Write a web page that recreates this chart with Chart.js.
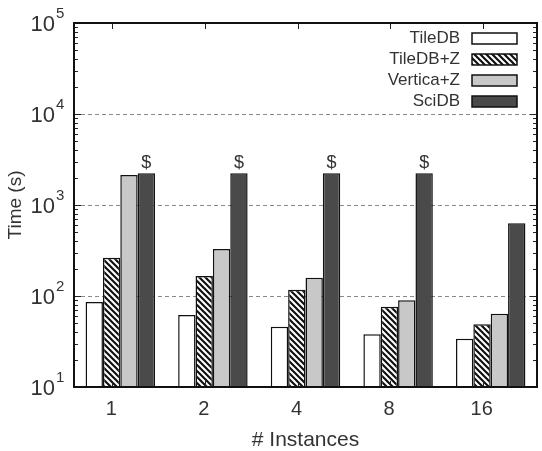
<!DOCTYPE html>
<html>
<head>
<meta charset="utf-8">
<script src="https://cdn.jsdelivr.net/npm/chart.js@4/dist/chart.umd.min.js"></script>
<style>
  html, body { margin: 0; padding: 0; background: #fff; }
  #wrap { width: 542px; height: 451px; }
</style>
</head>
<body>
<div id="wrap"><canvas id="c" width="542" height="451"></canvas></div>
<script>
// ---- data ----
const categories = ['1', '2', '4', '8', '16'];
const seriesNames = ['TileDB', 'TileDB+Z', 'Vertica+Z', 'SciDB'];
const tiledb   = [86, 62, 46, 38, 34];
const tiledbZ  = [264, 166, 117, 76, 49];
const verticaZ = [2140, 328, 159, 90, 64];
const scidb    = [2230, 2230, 2230, 2230, 630];
const scidbMarks = ['$', '$', '$', '$', ''];
const yTickExponents = [1, 2, 3, 4, 5];
const yTitle = 'Time (s)';
const xTitle = '# Instances';

const TEXT = '#333';
const FONT = '"Liberation Sans", Arial, sans-serif';

function hatchPattern() {
  const s = 6;
  const c = document.createElement('canvas');
  c.width = s; c.height = s;
  const g = c.getContext('2d');
  g.fillStyle = '#fff';
  g.fillRect(0, 0, s, s);
  g.strokeStyle = '#111';
  g.lineWidth = 2.2;
  g.beginPath();
  g.moveTo(-1, -1); g.lineTo(s + 1, s + 1);
  g.moveTo(-1, s - 1); g.lineTo(1, s + 1);
  g.moveTo(s - 1, -1); g.lineTo(s + 1, 1);
  g.stroke();
  return g.createPattern(c, 'repeat');
}
const hatch = hatchPattern();
const fills = ['#ffffff', hatch, '#c8c8c8', '#4a4a4a'];

const framePlugin = {
  id: 'frame',
  afterDraw(chart) {
    const { ctx, chartArea: a, scales } = chart;
    const y = scales.y, x = scales.x;
    ctx.save();
    // minor + major ticks on left and right
    ctx.strokeStyle = '#222';
    ctx.lineWidth = 1;
    for (let e = 1; e <= 4; e++) {
      for (let m = 1; m <= 9; m++) {
        const v = m * Math.pow(10, e);
        const py = Math.round(y.getPixelForValue(v)) + 0.5;
        const len = m === 1 ? 7 : 4;
        ctx.beginPath();
        ctx.moveTo(a.left, py); ctx.lineTo(a.left + len, py);
        ctx.moveTo(a.right, py); ctx.lineTo(a.right - len, py);
        ctx.stroke();
      }
    }
    // x ticks at label positions (top & bottom)
    for (let i = 0; i < categories.length; i++) {
      const px = Math.round(x.getPixelForValue(i) - 8) + 0.5;
      ctx.beginPath();
      ctx.moveTo(px, a.top); ctx.lineTo(px, a.top + 6);
      ctx.moveTo(px, a.bottom); ctx.lineTo(px, a.bottom - 6);
      ctx.stroke();
    }
    // frame
    ctx.strokeStyle = '#111';
    ctx.lineWidth = 2;
    ctx.strokeRect(a.left, a.top, a.right - a.left, a.bottom - a.top);

    // y tick labels 10^n
    ctx.fillStyle = TEXT;
    ctx.textBaseline = 'middle';
    yTickExponents.forEach(e => {
      const py = y.getPixelForValue(Math.pow(10, e));
      ctx.font = '22px ' + FONT;
      ctx.textAlign = 'right';
      ctx.fillText('10', 55, py + 1.5);
      ctx.font = '15px ' + FONT;
      ctx.textAlign = 'left';
      ctx.fillText(String(e), 56, py - 9);
    });

    // $ marks above SciDB bars
    const meta = chart.getDatasetMeta(3);
    ctx.font = '18px ' + FONT;
    ctx.textAlign = 'center';
    ctx.textBaseline = 'bottom';
    meta.data.forEach((bar, i) => {
      if (scidbMarks[i]) ctx.fillText(scidbMarks[i], bar.x, bar.y - 1);
    });

    // legend
    ctx.font = '17px ' + FONT;
    ctx.textAlign = 'right';
    ctx.textBaseline = 'middle';
    seriesNames.forEach((n, i) => {
      const ry = 38 + i * 21;
      ctx.fillStyle = TEXT;
      ctx.fillText(n, 460, ry);
      ctx.fillStyle = fills[i];
      ctx.fillRect(472, ry - 5, 45, 11);
      ctx.strokeStyle = '#111';
      ctx.lineWidth = 1.5;
      ctx.strokeRect(472, ry - 5, 45, 11);
    });
    ctx.restore();
  }
};

const datasets = [tiledb, tiledbZ, verticaZ, scidb].map((d, i) => ({
  label: seriesNames[i],
  data: d,
  backgroundColor: fills[i],
  borderColor: '#111',
  borderWidth: 1.5,
  borderSkipped: 'bottom',
  categoryPercentage: 0.75,
  barPercentage: 1.0
}));

new Chart(document.getElementById('c'), {
  type: 'bar',
  data: { labels: categories, datasets },
  plugins: [framePlugin],
  options: {
    responsive: false,
    animation: false,
    devicePixelRatio: 1,
    layout: { padding: { top: 23, right: 5, left: 0, bottom: 0 } },
    plugins: { legend: { display: false }, tooltip: { enabled: false } },
    scales: {
      x: {
        grid: { display: false, drawTicks: false },
        border: { display: false },
        ticks: { color: TEXT, font: { family: FONT, size: 20 }, padding: 10, labelOffset: -9 },
        title: { display: true, text: xTitle, color: TEXT, font: { family: FONT, size: 21, lineHeight: 1 }, padding: { top: 4, bottom: 0 } },
        afterFit(s) { s.height = 64; }
      },
      y: {
        type: 'logarithmic',
        min: 10, max: 100000,
        afterBuildTicks(s) { s.ticks = yTickExponents.map(e => ({ value: Math.pow(10, e) })); },
        grid: { color: '#8a8a8a', lineWidth: 1, drawTicks: false },
        border: { display: false, dash: [4, 3] },
        ticks: { display: false },
        title: { display: true, text: yTitle, color: TEXT, font: { family: FONT, size: 19 }, padding: { top: 4, bottom: 0 } },
        afterFit(s) { s.width = 74; }
      }
    }
  }
});
</script>
</body>
</html>
